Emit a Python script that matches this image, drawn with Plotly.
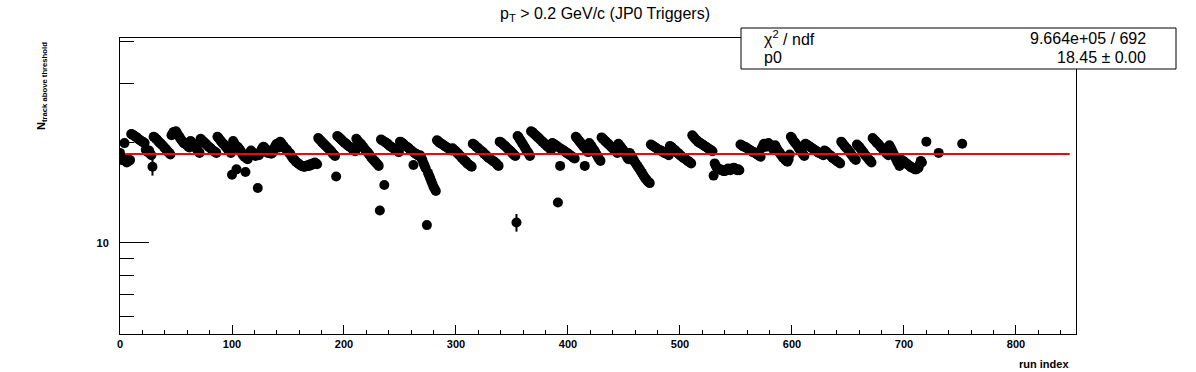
import plotly.graph_objects as go

# ---- data (run index -> N_track above threshold) ----
n_track = [
    # 0-9
    18.6, 18.0, 17.7, 17.9, 19.9, 17.6, 17.4, 17.8, 17.6, 17.7,
    # 10-22
    21.2, 21.1, 21.0, 20.9, 20.8, 20.7, 20.5, 20.4, 20.3, 20.2, 20.1, 20.0, 19.9,
    # 23-29
    19.0, 18.8, 18.7, 18.9, 18.5, 18.3, 16.9,
    # 30-45
    20.8, 20.7, 20.5, 20.4, 20.2, 20.0, 19.9, 19.7, 19.6, 19.4, 19.2, 19.1, 18.9, 18.7, 18.6, 18.4,
    # 46-62
    21.0, 21.3, 21.5, 21.4, 21.6, 21.3, 21.0, 20.8, 20.5, 20.3, 20.1, 19.9, 19.8, 19.7, 19.6, 19.4, 19.3,
    # 63-71
    20.2, 20.0, 19.8, 19.6, 19.4, 19.2, 19.0, 18.8, 18.6,
    # 72-86
    20.5, 20.3, 20.2, 20.0, 19.9, 19.7, 19.6, 19.4, 19.3, 19.2, 19.0, 18.9, 18.8, 18.7, 18.6,
    # 87-100
    20.8, 20.6, 20.4, 20.2, 20.0, 19.8, 19.7, 19.5, 19.3, 19.1, 19.0, 18.8, 18.6, 16.0,
    # 101-114
    20.2, 19.9, 19.6, 16.6, 19.4, 19.2, 19.0, 18.8, 18.5, 18.3, 18.1, 16.3, 17.9, 17.8,
    # 115-142
    18.4, 18.6, 18.9, 18.7, 18.5, 18.3, 18.2, 18.4, 14.6, 18.3, 18.6, 18.9, 19.2, 19.4,
    19.3, 19.0, 18.8, 18.6, 18.9, 18.7, 18.5, 18.6, 18.9, 19.3, 19.6, 19.8, 19.6, 19.3,
    # 143-152
    20.1, 19.9, 19.7, 19.5, 19.3, 19.1, 19.0, 18.8, 18.6, 18.5,
    # 153-176
    18.2, 18.0, 17.8, 17.7, 17.5, 17.4, 17.3, 17.2, 17.1, 17.0, 17.0, 16.9,
    16.9, 17.0, 17.0, 17.1, 17.0, 17.2, 17.1, 17.3, 17.2, 17.4, 17.3, 17.2,
    # 177-193
    20.6, 20.4, 20.3, 20.1, 19.9, 19.8, 19.6, 19.5, 19.3, 19.2, 19.0, 18.9, 18.7, 18.5, 18.4, 18.2, 15.8,
    # 194-210
    20.9, 20.8, 20.6, 20.5, 20.3, 20.2, 20.0, 19.9, 19.8, 19.6, 19.5, 19.4, 19.3, 19.2, 19.0, 18.9, 18.8,
    # 211-232
    20.5, 20.3, 20.1, 19.9, 19.8, 19.6, 19.4, 19.2, 19.0, 18.8, 18.7, 18.5, 18.3, 18.1, 17.9, 17.8,
    17.6, 17.5, 17.3, 17.2, 17.0, 12.5,
    # 233-249
    20.4, 20.3, 20.2, 14.9, 20.0, 19.9, 19.8, 19.6, 19.5, 19.4, 19.3, 19.2, 19.1, 19.0, 18.9, 18.8, 18.7,
    # 250-267
    20.1, 20.0, 19.9, 19.8, 19.6, 19.5, 19.4, 19.3, 19.2, 19.0, 18.9, 18.8, 17.1, 18.6, 18.5, 18.4, 18.3, 18.2,
    # 268-282
    18.3, 18.0, 17.7, 17.3, 17.0, 16.7, 11.3, 16.2, 15.9, 15.6, 15.3, 15.0, 14.7, 14.5, 14.3,
    # 283-296
    20.3, 20.2, 20.0, 19.9, 19.8, 19.7, 19.6, 19.5, 19.4, 19.3, 19.2, 19.1, 19.0, 18.9,
    # 297-314
    19.2, 19.0, 18.9, 18.8, 18.6, 18.5, 18.3, 18.2, 18.0, 17.9, 17.7, 17.6, 17.5, 17.3, 17.2, 17.1, 17.0, 16.9,
    # 315-338
    19.8, 19.7, 19.6, 19.4, 19.3, 19.2, 19.0, 18.9, 18.8, 18.7, 18.5, 18.4,
    18.3, 18.1, 18.0, 17.9, 17.8, 17.7, 17.6, 17.5, 17.4, 17.3, 17.1, 17.0,
    # 339-354
    20.1, 20.0, 19.9, 19.7, 19.6, 19.5, 19.3, 19.2, 19.0, 18.9, 18.8, 18.6, 18.5, 18.3, 18.2, 11.5,
    # 355-366
    20.9, 20.7, 20.4, 20.2, 19.9, 19.7, 19.4, 19.2, 18.9, 18.7, 18.5, 18.2,
    # 367-385
    21.6, 21.5, 21.3, 21.2, 21.0, 20.9, 20.7, 20.6, 20.4, 20.3, 20.1, 20.0, 19.8, 19.7, 19.5, 19.4, 19.3, 19.1, 19.0,
    # 386-406
    19.9, 19.8, 19.7, 19.6, 19.5, 13.2, 19.3, 17.0, 19.1, 19.0, 18.9, 18.8, 18.7, 18.6, 18.5, 18.4,
    18.3, 18.2, 18.1, 18.0, 17.9,
    # 407-417
    20.8, 20.6, 20.4, 20.2, 20.0, 19.8, 19.6, 19.4, 17.0, 19.1, 18.9,
    # 418-429
    18.7, 19.9, 19.7, 19.5, 19.2, 19.0, 18.8, 18.5, 18.3, 18.0, 17.8, 17.6,
    # 430-444
    20.7, 20.5, 20.4, 20.2, 20.1, 19.9, 19.8, 19.6, 19.5, 19.3, 19.2, 19.0, 18.9, 18.8, 18.6,
    # 445-454
    19.8, 19.6, 19.4, 19.2, 19.0, 18.8, 18.5, 18.3, 18.0, 17.8,
    # 455-473
    18.6, 18.4, 18.1, 17.9, 17.6, 17.4, 17.2, 17.0, 16.8, 16.6, 16.4, 16.2, 16.0, 15.8, 15.6, 15.5, 15.3, 15.2, 15.1,
    # 474-490
    19.7, 19.6, 19.5, 19.4, 19.3, 19.2, 19.1, 19.0, 18.9, 18.9, 18.8, 18.7, 18.6, 18.6, 18.5, 18.4, 18.3,
    # 491-510
    19.5, 19.4, 19.3, 19.1, 19.0, 18.9, 18.7, 18.6, 18.5, 18.3, 18.2, 18.1, 18.0, 17.9, 17.8, 17.7, 17.6, 17.5, 17.4, 17.3,
    # 511-530
    21.0, 20.8, 20.6, 20.4, 20.3, 20.1, 20.0, 19.9, 19.8, 19.7, 19.6, 19.5, 19.4, 19.3, 19.2, 19.1, 19.0, 18.9, 18.8, 15.9,
    # 531-553
    17.3, 17.0, 16.8, 16.7, 16.6, 16.6, 16.5, 16.5, 16.4, 16.4, 16.5, 16.6,
    16.7, 16.6, 16.5, 16.6, 16.7, 16.8, 16.7, 16.6, 16.5, 16.6, 16.5,
    # 554-572
    19.7, 19.6, 19.5, 19.4, 19.4, 19.3, 19.2, 19.1, 19.0, 18.9, 18.8, 18.7, 18.7, 18.6, 18.5, 18.4, 18.3, 18.2, 18.1,
    # 573-590
    19.2, 19.5, 19.8, 19.6, 19.4, 19.7, 19.9, 19.7, 19.5, 19.3, 19.1, 19.4, 19.6, 19.3, 19.0, 18.8, 18.6, 18.4,
    # 591-598
    18.2, 18.0, 17.9, 17.7, 17.6, 17.5, 17.8, 18.4,
    # 599-611
    20.8, 20.6, 20.3, 20.1, 19.9, 19.7, 19.5, 19.2, 19.0, 18.8, 18.6, 18.4, 18.2,
    # 612-628
    19.8, 19.7, 19.6, 19.5, 19.4, 19.3, 19.2, 19.1, 19.0, 18.9, 18.8, 18.7, 18.6, 18.6, 18.5, 18.4, 18.3,
    # 629-643
    18.9, 18.8, 18.7, 18.5, 18.4, 18.3, 18.2, 18.0, 17.9, 17.8, 17.7, 17.6, 17.5, 17.4, 17.3,
    # 644-657
    20.1, 19.9, 19.7, 19.5, 19.3, 19.2, 19.0, 18.8, 18.6, 18.4, 18.2, 18.0, 17.9, 17.7,
    # 658-671
    19.7, 19.5, 19.4, 19.2, 19.0, 18.8, 18.6, 18.4, 18.2, 18.1, 17.9, 17.7, 17.6, 17.4,
    # 672-686
    20.6, 20.4, 20.3, 20.1, 19.9, 19.8, 19.6, 19.4, 19.3, 19.1, 18.9, 18.8, 18.6, 18.5, 18.3,
    # 687-696
    19.6, 19.3, 19.0, 18.7, 18.4, 18.1, 17.8, 17.5, 17.3, 17.0,
    # 697-716
    17.8, 17.7, 17.6, 17.5, 17.4, 17.3, 17.2, 17.1, 17.0, 16.9,
    16.8, 16.8, 16.7, 16.6, 16.6, 16.7, 16.8, 17.2, 17.6, 17.4,
]
late_runs = [720, 731, 752]
late_values = [20.1, 18.6, 19.8]

# points whose error bars are visible outside the marker
visible_err_runs = [29, 354]
visible_err_sizes = [1.0, 0.7]

fit_p0 = 18.45
fit_range = [4.5, 848]

x_tick_vals = [0, 100, 200, 300, 400, 500, 600, 700, 800]
y_major_ticks = [10]
y_minor_ticks = [6, 7, 8, 9, 20, 30, 40]

title_text = "p<sub>T</sub> > 0.2 GeV/c (JP0 Triggers)"
x_title = "run index"
y_title = "N<sub>track above threshold</sub>"
stat_labels = ["χ<sup>2</sup> / ndf", "p0"]
stat_values = ["9.664e+05 / 692", "18.45 ± 0.00"]

# ---- build ----
runs = list(range(len(n_track))) + late_runs
vals = n_track + late_values
err_map = dict(zip(visible_err_runs, visible_err_sizes))
errs = [err_map.get(r, 0.0) for r in runs]

FONT = "Liberation Sans, Arial, Helvetica, sans-serif"
L, R, T, B = 120, 120, 38, 38
W, H = 1196, 372
PW, PH = W - L - R, H - T - B

def px_x(p):
    return (p - L) / PW

def px_y(p):
    return (H - B - p) / PH

fig = go.Figure()
fig.add_trace(go.Scatter(
    x=runs, y=vals, mode="markers",
    marker=dict(color="black", size=10, line=dict(width=0)),
    error_y=dict(type="data", array=errs, visible=True, color="black", thickness=2, width=0),
    showlegend=False, hoverinfo="x+y",
))
fig.add_trace(go.Scatter(
    x=fit_range, y=[fit_p0, fit_p0], mode="lines",
    line=dict(color="#ff0000", width=2),
    showlegend=False,
))

fig.update_layout(
    width=W, height=H,
    margin=dict(l=L, r=R, t=T, b=B, pad=0),
    paper_bgcolor="white", plot_bgcolor="white",
    font=dict(family=FONT, color="black"),
    title=dict(text=title_text, x=605 / W, xanchor="center", y=1 - 13 / H, yanchor="middle",
               font=dict(size=16, family=FONT, color="black")),
    xaxis=dict(
        range=[0, 853.6], showgrid=False, zeroline=False,
        showline=True, linecolor="black", linewidth=1, mirror=True,
        tickmode="array", tickvals=x_tick_vals,
        ticks="inside", ticklen=9, tickwidth=1, tickcolor="black",
        minor=dict(dtick=20, tick0=0, ticks="inside", ticklen=4, tickwidth=1, tickcolor="black", showgrid=False),
        tickfont=dict(size=11, family=FONT, color="black", weight="bold"),
    ),
    yaxis=dict(
        type="log", range=[0.7267, 1.6138], showgrid=False, zeroline=False,
        showline=True, linecolor="black", linewidth=1, mirror=True,
        tickmode="array", tickvals=y_major_ticks, ticktext=[str(v) for v in y_major_ticks],
        ticks="inside", ticklen=29, tickwidth=1, tickcolor="black",
        minor=dict(tickmode="array", tickvals=y_minor_ticks, ticks="inside", ticklen=14,
                   tickwidth=1, tickcolor="black", showgrid=False),
        tickfont=dict(size=11, family=FONT, color="black", weight="bold"),
        ticklabelstandoff=8,
    ),
)

# stats box
fig.add_shape(type="rect", xref="paper", yref="paper",
              x0=px_x(741), x1=px_x(1176), y0=px_y(69), y1=px_y(28),
              fillcolor="white", line=dict(color="black", width=1), layer="above")
for i, (lab, val) in enumerate(zip(stat_labels, stat_values)):
    ypix = 38 + i * 20
    fig.add_annotation(xref="paper", yref="paper", x=px_x(762), y=px_y(ypix),
                       xanchor="left", yanchor="middle", text=lab, showarrow=False,
                       font=dict(size=16, family=FONT, color="black"))
    fig.add_annotation(xref="paper", yref="paper", x=px_x(1148), y=px_y(ypix),
                       xanchor="right", yanchor="middle", text=val, showarrow=False,
                       font=dict(size=16, family=FONT, color="black"))

# axis titles
fig.add_annotation(xref="paper", yref="paper", x=px_x(1071), y=px_y(364),
                   xanchor="right", yanchor="middle", text=x_title, showarrow=False,
                   font=dict(size=11, family=FONT, color="black", weight="bold"))
fig.add_annotation(xref="paper", yref="paper", x=px_x(42), y=px_y(40),
                   xanchor="center", yanchor="top", text=y_title, textangle=-90, showarrow=False,
                   font=dict(size=11, family=FONT, color="black", weight="bold"))

fig.write_html(
    "out.html",
    config={"displayModeBar": False},
    post_script="document.body.style.margin='0';document.body.style.padding='0';"
                "document.body.style.overflow='hidden';",
)
